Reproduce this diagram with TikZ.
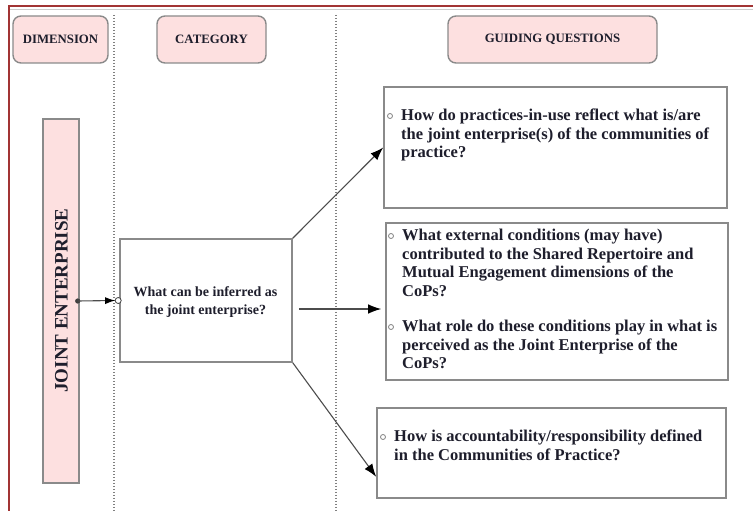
\documentclass[tikz,border=0pt]{standalone}
\usepackage{fontspec}
\setmainfont{Liberation Serif}
\usetikzlibrary{arrows.meta}
\definecolor{framered}{HTML}{A23434}
\definecolor{boxgray}{HTML}{8A8A8A}
\definecolor{pinkfill}{HTML}{FDE0E0}
\definecolor{inktext}{HTML}{1E1E2C}
\begin{document}
\begin{tikzpicture}[x=1pt,y=-1pt,
  header/.style={draw=boxgray, line width=1.4pt, fill=pinkfill, rounded corners=8pt,
    font=\bfseries\fontsize{12.8}{14}\selectfont, text=inktext, inner sep=0pt},
  qbox/.style={draw=boxgray, line width=1.6pt, fill=white, inner sep=0pt},
  qtext/.style={font=\bfseries\fontsize{16.5}{18.5}\selectfont, text=inktext,
    align=left, anchor=north west, inner sep=0pt},
  bullet/.style={circle, draw=gray, line width=0.8pt, minimum size=5pt, inner sep=0pt},
  divider/.style={draw=gray, line width=1.6pt, dash pattern=on 1.3pt off 1.7pt},
  link/.style={draw=black!70, line width=1.1pt,
    -{Latex[length=13pt,width=9.5pt,color=black]}},
]
\useasboundingbox (0,0) rectangle (753,511);

% page frame
\draw[gray!40, line width=1.5pt] (9,9.5) -- (753,9.5);
\draw[framered, line width=2pt] (8.5,511) -- (8.5,6.5) -- (753,6.5);

% column dividers
\draw[divider] (114,15) -- (114,511);
\draw[divider] (336,15) -- (336,511);

% column headers
\node[header, minimum width=95pt, minimum height=47pt] (dim) at (60.5,39.5) {DIMENSION};
\node[header, minimum width=109pt, minimum height=47pt] (cat) at (211.5,39.5) {CATEGORY};
\node[header, minimum width=209pt, minimum height=47pt] (gq) at (552.5,39.5) {GUIDING QUESTIONS};

% dimension
\node[draw=boxgray, line width=1.4pt, fill=pinkfill, minimum width=36pt,
  minimum height=364pt, inner sep=0pt] (je) at (61,301) {};
\node[rotate=90, font=\bfseries\fontsize{19}{20}\selectfont, text=inktext] (jelabel)
  at (61.5,300.5) {JOINT ENTERPRISE};

% category
\node[qbox, minimum width=172pt, minimum height=123pt] (cbox) at (206,300.5) {};
\node[font=\bfseries\fontsize{14}{18}\selectfont, text=inktext, align=center, inner sep=0pt]
  (ctext) at (205.5,302) {What can be inferred as\\the joint enterprise?};

% guiding questions
\node[qbox, minimum width=343pt, minimum height=121pt] (q1) at (555.5,147.5) {};
\node[qbox, minimum width=342pt, minimum height=157pt] (q2) at (557,301.5) {};
\node[qbox, minimum width=349pt, minimum height=90pt] (q3) at (551.5,453) {};

\node[bullet] (b1) at (390,116) {};
\node[qtext] (t1) at (401,109) {How do practices-in-use reflect what is/are\\
  the joint enterprise(s) of the communities of\\practice?};

\node[bullet] (b2) at (391,236) {};
\node[qtext] (t2) at (402,229) {What external conditions (may have)\\
  contributed to the Shared Repertoire and\\Mutual Engagement dimensions of the\\CoPs?};
\node[bullet] (b3) at (391,327) {};
\node[qtext] (t3) at (402,320) {What role do these conditions play in what is\\
  perceived as the Joint Enterprise of the\\CoPs?};

\node[bullet] (b4) at (383,437) {};
\node[qtext] (t4) at (394,430) {How is accountability/responsibility defined\\
  in the Communities of Practice?};

% connectors
\fill[black!75] ([xshift=-2pt]je.east) circle (2.6pt);
\draw[link, -{Latex[length=10pt,width=7pt,color=black]}] ([xshift=-2pt]je.east) -- ([xshift=-4pt]cbox.west);
\node[bullet, draw=black!75, fill=white, minimum size=6pt] (jeend) at ([xshift=-1pt]cbox.west) {};

\draw[link] (cbox.north east) -- (q1.west);
\draw[link] ([xshift=6pt,yshift=-8.5pt]cbox.east) -- ([xshift=-4pt,yshift=-7.5pt]q2.west);
\draw[link] (cbox.south east) -- ([yshift=22pt]q3.south west);
\end{tikzpicture}
\end{document}
